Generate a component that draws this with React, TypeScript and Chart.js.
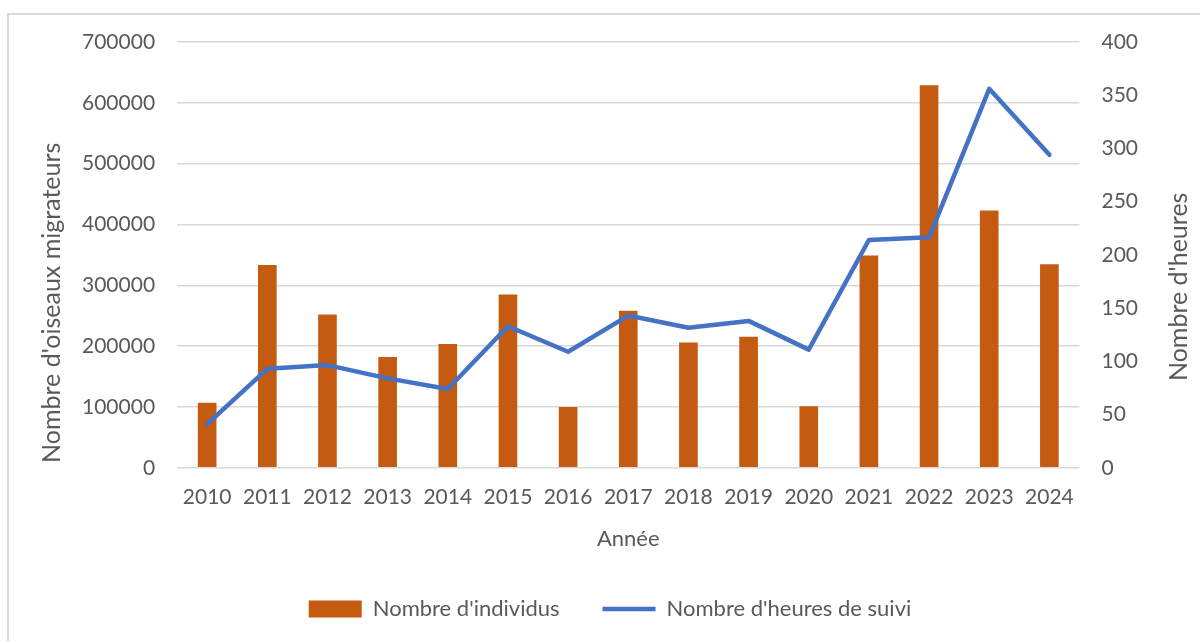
import React, { useEffect, useRef } from "react";
import { Chart, registerables } from "chart.js";

Chart.register(...registerables);

const years = ["2010","2011","2012","2013","2014","2015","2016","2017","2018","2019","2020","2021","2022","2023","2024"];
const individus = [107000, 333500, 252000, 182000, 203500, 285000, 100000, 258000, 206000, 215500, 101000, 349000, 629000, 423000, 334500];
const heures = [41, 93, 96.5, 84, 74, 133, 109, 143, 131.5, 138, 111, 214, 216.5, 356, 294];
const leftTicks = [0, 100000, 200000, 300000, 400000, 500000, 600000, 700000];
const rightTicks = [0, 50, 100, 150, 200, 250, 300, 350, 400];

const FONT = "Lato, 'Open Sans', sans-serif";
const TEXT = "#595959";

const titlePlugin = {
  id: "sideTitles",
  afterDraw(chart: any) {
    const { ctx, chartArea } = chart;
    ctx.save();
    ctx.fillStyle = TEXT;
    ctx.font = `25px ${FONT}`;
    ctx.textAlign = "center";
    ctx.textBaseline = "middle";
    ctx.translate(chartArea.left - 125, chartArea.bottom - 165);
    ctx.rotate(-Math.PI / 2);
    ctx.fillText("Nombre d'oiseaux migrateurs", 0, 0);
    ctx.restore();
    ctx.save();
    ctx.fillStyle = TEXT;
    ctx.font = `25px ${FONT}`;
    ctx.textAlign = "center";
    ctx.textBaseline = "middle";
    ctx.translate(chartArea.right + 99, chartArea.bottom - 181);
    ctx.rotate(-Math.PI / 2);
    ctx.fillText("Nombre d'heures", 0, 0);
    ctx.restore();
  },
};

export default function App() {
  const ref = useRef<HTMLCanvasElement>(null);
  useEffect(() => {
    if (!ref.current) return;
    const chart = new Chart(ref.current, {
      type: "bar",
      data: {
        labels: years,
        datasets: [
          {
            type: "line",
            label: "Nombre d'heures de suivi",
            data: heures,
            yAxisID: "y1",
            borderColor: "#4472C4",
            backgroundColor: "#4472C4",
            borderWidth: 4.5,
            pointRadius: 0,
            borderCapStyle: "round",
            borderJoinStyle: "round",
            tension: 0,
            order: 0,
            pointStyle: "line",
          } as any,
          {
            type: "bar",
            label: "Nombre d'individus",
            data: individus,
            yAxisID: "y",
            backgroundColor: "#C55A11",
            borderWidth: 0,
            barPercentage: 0.31,
            categoryPercentage: 1,
            order: 1,
            pointStyle: "rect",
          } as any,
        ],
      },
      options: {
        responsive: false,
        animation: false,
        layout: { padding: { left: 60, right: 40, top: 42, bottom: 11 } },
        plugins: {
          tooltip: { enabled: false },
          legend: {
            position: "bottom",
            reverse: true,
            labels: {
              usePointStyle: true,
              pointStyleWidth: 53,
              boxHeight: 17,
              padding: 43,
              color: TEXT,
              font: { family: FONT, size: 22 },
            },
          },
        },
        scales: {
          x: {
            grid: { display: false, drawTicks: false },
            border: { display: false },
            ticks: { color: TEXT, font: { family: FONT, size: 21 }, padding: 17, maxRotation: 0, autoSkip: false },
            title: { display: true, text: "Année", color: TEXT, font: { family: FONT, size: 22, lineHeight: 1.0 }, padding: { top: 1, bottom: 5 } },
          },
          y: {
            position: "left",
            min: 0,
            max: 700000,
            afterBuildTicks: (axis: any) => { axis.ticks = leftTicks.map((v) => ({ value: v })); },
            grid: { color: "#d9d9d9", lineWidth: 1.5, drawTicks: false },
            border: { display: false },
            ticks: { color: TEXT, font: { family: FONT, size: 21 }, padding: 22, callback: (v: any) => String(v) },
          },
          y1: {
            position: "right",
            min: 0,
            max: 400,
            afterBuildTicks: (axis: any) => { axis.ticks = rightTicks.map((v) => ({ value: v })); },
            grid: { display: false, drawTicks: false },
            border: { display: false },
            ticks: { color: TEXT, font: { family: FONT, size: 21 }, padding: 22, callback: (v: any) => String(v) },
          },
        },
      },
      plugins: [titlePlugin],
    });
    return () => chart.destroy();
  }, []);
  return (
    <div style={{ position: "fixed", left: 0, top: 0, width: 1200, height: 641, background: "#fff", overflow: "hidden" }}>
      <div style={{ position: "absolute", left: 7, top: 13, width: 1193, height: 628, borderLeft: "2px solid #d9d9d9", borderTop: "2px solid #d9d9d9", boxSizing: "border-box" }} />
      <canvas ref={ref} width={1200} height={641} style={{ position: "absolute", left: 0, top: 0 }} />
    </div>
  );
}
